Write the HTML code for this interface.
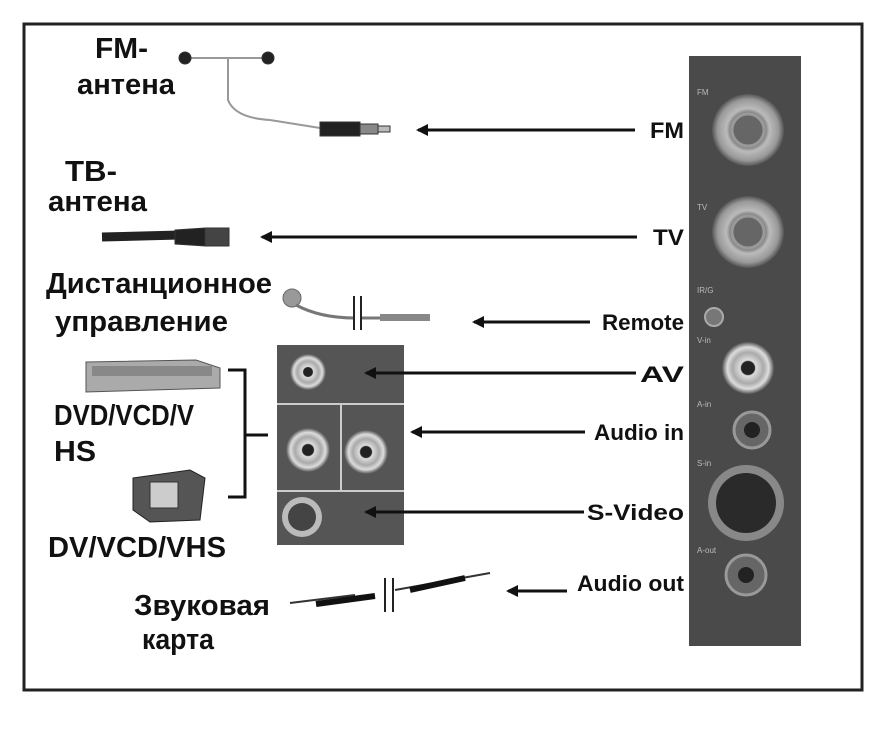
<!DOCTYPE html>
<html><head><meta charset="utf-8"><style>
body{margin:0;background:#fff;}
svg{display:block;font-family:"Liberation Sans",Arial,sans-serif;}
.big{font-size:29px;font-weight:bold;fill:#111;}
.lab{font-size:22px;font-weight:bold;fill:#111;}
.sm{font-size:8px;fill:#bbb;}
</style></head><body>
<svg width="882" height="730" viewBox="0 0 882 730">
<defs>
<marker id="ah" markerWidth="12" markerHeight="12" refX="10" refY="6" orient="auto" markerUnits="userSpaceOnUse">
<path d="M0,0 L12,6 L0,12 Z" fill="#111"/></marker>
<radialGradient id="rca" cx="50%" cy="50%" r="50%"><stop offset="0.25" stop-color="#222"/><stop offset="0.3" stop-color="#ddd"/><stop offset="0.6" stop-color="#aaa"/><stop offset="0.8" stop-color="#ddd"/><stop offset="1" stop-color="#555"/></radialGradient>
<radialGradient id="big" cx="50%" cy="50%" r="50%"><stop offset="0.1" stop-color="#222"/><stop offset="0.15" stop-color="#777"/><stop offset="0.5" stop-color="#888"/><stop offset="0.6" stop-color="#bbb"/><stop offset="0.85" stop-color="#999"/><stop offset="1" stop-color="#555"/></radialGradient>
</defs>
<rect x="24" y="24" width="838" height="666" fill="#fff" stroke="#222" stroke-width="3"/>
<rect x="689" y="56" width="112" height="590" fill="#4a4a4a"/>
<circle cx="748" cy="130" r="36" fill="url(#big)"/>
<circle cx="748" cy="130" r="16" fill="#666" stroke="#999" stroke-width="3"/>
<circle cx="748" cy="232" r="36" fill="url(#big)"/>
<circle cx="748" cy="232" r="16" fill="#666" stroke="#999" stroke-width="3"/>
<circle cx="714" cy="317" r="9" fill="#777" stroke="#aaa" stroke-width="2"/>
<circle cx="748" cy="368" r="26" fill="url(#rca)"/>
<circle cx="752" cy="430" r="18" fill="#666" stroke="#999" stroke-width="3"/>
<circle cx="752" cy="430" r="8" fill="#222"/>
<circle cx="746" cy="503" r="38" fill="#888"/>
<circle cx="746" cy="503" r="30" fill="#2a2a2a"/>
<circle cx="746" cy="575" r="20" fill="#666" stroke="#999" stroke-width="3"/>
<circle cx="746" cy="575" r="8" fill="#222"/>
<text class="sm" x="697" y="95">FM</text><text class="sm" x="697" y="210">TV</text>
<text class="sm" x="697" y="293">IR/G</text><text class="sm" x="697" y="343">V-in</text>
<text class="sm" x="697" y="407">A-in</text><text class="sm" x="697" y="466">S-in</text>
<text class="sm" x="697" y="553">A-out</text>
<rect x="277" y="345" width="127" height="200" fill="#555"/>
<line x1="277" y1="404" x2="404" y2="404" stroke="#ccc" stroke-width="2"/>
<line x1="277" y1="491" x2="404" y2="491" stroke="#ccc" stroke-width="2"/>
<line x1="341" y1="404" x2="341" y2="491" stroke="#ccc" stroke-width="2"/>
<circle cx="308" cy="372" r="18" fill="url(#rca)"/>
<circle cx="308" cy="450" r="22" fill="url(#rca)"/>
<circle cx="366" cy="452" r="22" fill="url(#rca)"/>
<circle cx="302" cy="517" r="20" fill="#bbb"/><circle cx="302" cy="517" r="14" fill="#444"/>
<g stroke="#111" stroke-width="3" marker-end="url(#ah)">
<line x1="635" y1="130" x2="418" y2="130"/>
<line x1="637" y1="237" x2="262" y2="237"/>
<line x1="590" y1="322" x2="474" y2="322"/>
<line x1="636" y1="373" x2="366" y2="373"/>
<line x1="585" y1="432" x2="412" y2="432"/>
<line x1="584" y1="512" x2="366" y2="512"/>
<line x1="567" y1="591" x2="508" y2="591"/>
</g>
<text class="lab" x="650" y="138" textLength="34" lengthAdjust="spacingAndGlyphs">FM</text>
<text class="lab" x="653" y="245" textLength="31" lengthAdjust="spacingAndGlyphs">TV</text>
<text class="lab" x="602" y="330" textLength="82" lengthAdjust="spacingAndGlyphs">Remote</text>
<text class="lab" x="640" y="382" textLength="44" lengthAdjust="spacingAndGlyphs">AV</text>
<text class="lab" x="594" y="440" textLength="90" lengthAdjust="spacingAndGlyphs">Audio in</text>
<text class="lab" x="587" y="520" textLength="97" lengthAdjust="spacingAndGlyphs">S-Video</text>
<text class="lab" x="577" y="591" textLength="107" lengthAdjust="spacingAndGlyphs">Audio out</text>
<text class="big" x="95" y="58" textLength="53" lengthAdjust="spacingAndGlyphs">FM-</text>
<text class="big" x="77" y="94" textLength="98" lengthAdjust="spacingAndGlyphs">антена</text>
<text class="big" x="65" y="181" textLength="52" lengthAdjust="spacingAndGlyphs">ТВ-</text>
<text class="big" x="48" y="211" textLength="99" lengthAdjust="spacingAndGlyphs">антена</text>
<text class="big" x="46" y="293" textLength="226" lengthAdjust="spacingAndGlyphs">Дистанционное</text>
<text class="big" x="55" y="331" textLength="173" lengthAdjust="spacingAndGlyphs">управление</text>
<text class="big" x="54" y="425" textLength="140" lengthAdjust="spacingAndGlyphs">DVD/VCD/V</text>
<text class="big" x="54" y="461" textLength="42" lengthAdjust="spacingAndGlyphs">HS</text>
<text class="big" x="48" y="557" textLength="178" lengthAdjust="spacingAndGlyphs">DV/VCD/VHS</text>
<text class="big" x="134" y="615" textLength="136" lengthAdjust="spacingAndGlyphs">Звуковая</text>
<text class="big" x="142" y="649" textLength="72" lengthAdjust="spacingAndGlyphs">карта</text>
<g stroke="#333" fill="none">
<path d="M187,58 L270,58 M228,58 L228,100 Q235,118 270,120 L320,128" stroke="#999" stroke-width="2"/>
<circle cx="185" cy="58" r="6" fill="#222"/><circle cx="268" cy="58" r="6" fill="#222"/>
<rect x="320" y="122" width="40" height="14" fill="#222"/>
<rect x="360" y="124" width="18" height="10" fill="#888"/>
<rect x="378" y="126" width="12" height="6" fill="#bbb"/>
<path d="M102,237 L180,235" stroke="#222" stroke-width="9"/>
<path d="M175,230 L205,228 L205,246 L175,244 Z" fill="#222"/>
<rect x="205" y="228" width="24" height="18" fill="#444"/>
<circle cx="292" cy="298" r="9" fill="#999" stroke="#666"/>
<path d="M296,305 Q320,318 355,318 M360,318 L430,318" stroke="#777" stroke-width="3"/>
<path d="M354,296 L354,330 M361,296 L361,330" stroke="#222" stroke-width="2"/>
<rect x="380" y="314" width="50" height="7" fill="#888" stroke="none"/>
<path d="M228,370 L245,370 L245,497 L228,497 M245,435 L268,435" stroke="#111" stroke-width="3"/>
<path d="M86,362 L196,360 L220,368 L220,388 L86,392 Z" fill="#aaa" stroke="#555"/>
<rect x="92" y="366" width="120" height="10" fill="#888" stroke="none"/>
<path d="M133,478 L190,470 L205,478 L200,520 L150,522 L133,510 Z" fill="#555" stroke="#222"/>
<rect x="150" y="482" width="28" height="26" fill="#ccc" stroke="#333"/>
<path d="M290,603 L355,595 M395,590 L490,573" stroke="#333" stroke-width="2"/>
<path d="M316,604 L375,596 M410,590 L465,578" stroke="#111" stroke-width="6"/>
<path d="M385,578 L385,612 M393,578 L393,612" stroke="#222" stroke-width="2"/>
</g>
</svg>
</body></html>
